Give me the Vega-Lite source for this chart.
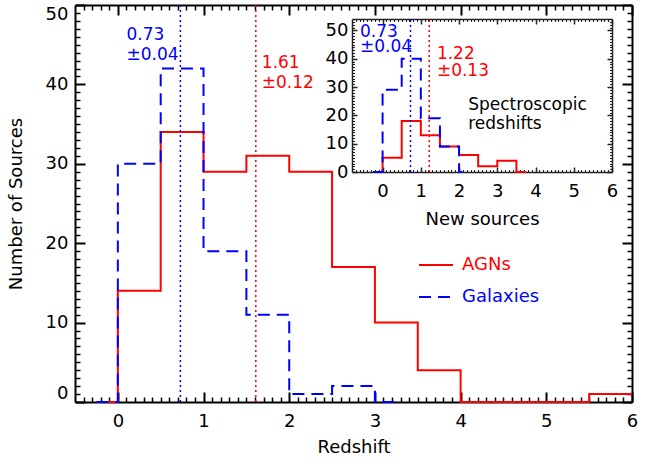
{
  "$schema": "https://vega.github.io/schema/vega-lite/v6.json",
  "width": 557,
  "height": 397,
  "autosize": {"type": "none"},
  "padding": {"left": 75, "top": 5, "right": 20, "bottom": 59},
  "background": "white",
  "config": {
    "view": {"stroke": null},
    "axis": {"grid": false, "labelFont": "DejaVu Sans", "titleFont": "DejaVu Sans", "labelFontSize": 18, "titleFontSize": 18, "titleFontWeight": "normal", "labelColor": "black", "titleColor": "black", "domainColor": "black", "tickColor": "black", "labelFlush": false, "labelOverlap": false}
  },
  "datasets": {
    "main": [
      {"x": -0.25, "count": 0, "type": "AGNs"},
      {"x": 0, "count": 14, "type": "AGNs"},
      {"x": 0.5, "count": 34, "type": "AGNs"},
      {"x": 1, "count": 29, "type": "AGNs"},
      {"x": 1.5, "count": 31, "type": "AGNs"},
      {"x": 2, "count": 29, "type": "AGNs"},
      {"x": 2.5, "count": 17, "type": "AGNs"},
      {"x": 3, "count": 10, "type": "AGNs"},
      {"x": 3.5, "count": 4, "type": "AGNs"},
      {"x": 4, "count": 0, "type": "AGNs"},
      {"x": 5.5, "count": 1, "type": "AGNs"},
      {"x": 6, "count": 1, "type": "AGNs"},
      {"x": -0.25, "count": 0, "type": "Galaxies"},
      {"x": 0, "count": 30, "type": "Galaxies"},
      {"x": 0.5, "count": 42, "type": "Galaxies"},
      {"x": 1, "count": 19, "type": "Galaxies"},
      {"x": 1.5, "count": 11, "type": "Galaxies"},
      {"x": 2, "count": 1, "type": "Galaxies"},
      {"x": 2.5, "count": 2, "type": "Galaxies"},
      {"x": 3, "count": 0, "type": "Galaxies"},
      {"x": 3.25, "count": 0, "type": "Galaxies"}
    ],
    "inset": [
      {"x": -0.1, "count": 0, "type": "AGNs"},
      {"x": 0, "count": 5, "type": "AGNs"},
      {"x": 0.5, "count": 18, "type": "AGNs"},
      {"x": 1, "count": 13, "type": "AGNs"},
      {"x": 1.5, "count": 9, "type": "AGNs"},
      {"x": 2, "count": 6, "type": "AGNs"},
      {"x": 2.5, "count": 2, "type": "AGNs"},
      {"x": 3, "count": 4, "type": "AGNs"},
      {"x": 3.5, "count": 0, "type": "AGNs"},
      {"x": 3.75, "count": 0, "type": "AGNs"},
      {"x": -0.25, "count": 0, "type": "Galaxies"},
      {"x": 0, "count": 29, "type": "Galaxies"},
      {"x": 0.5, "count": 40, "type": "Galaxies"},
      {"x": 1, "count": 19, "type": "Galaxies"},
      {"x": 1.5, "count": 9, "type": "Galaxies"},
      {"x": 2, "count": 0, "type": "Galaxies"},
      {"x": 2.25, "count": 0, "type": "Galaxies"}
    ],
    "vlines": [
      {"panel": "main", "x": 0.73, "type": "Galaxies"},
      {"panel": "main", "x": 1.61, "type": "AGNs"},
      {"panel": "inset", "x": 0.73, "type": "Galaxies"},
      {"panel": "inset", "x": 1.22, "type": "AGNs"}
    ],
    "labels": [
      {"panel": "main", "x": 0.1, "count": 46.2, "text": "0.73", "type": "Galaxies"},
      {"panel": "main", "x": 0.1, "count": 43.7, "text": "±0.04", "type": "Galaxies"},
      {"panel": "main", "x": 1.68, "count": 42.7, "text": "1.61", "type": "AGNs"},
      {"panel": "main", "x": 1.68, "count": 40.2, "text": "±0.12", "type": "AGNs"},
      {"panel": "inset", "x": -0.59, "count": 49.5, "text": "0.73", "type": "Galaxies"},
      {"panel": "inset", "x": -0.59, "count": 44.2, "text": "±0.04", "type": "Galaxies"},
      {"panel": "inset", "x": 1.42, "count": 41.7, "text": "1.22", "type": "AGNs"},
      {"panel": "inset", "x": 1.42, "count": 35.7, "text": "±0.13", "type": "AGNs"},
      {"panel": "inset", "x": 2.24, "count": 23.7, "text": "Spectroscopic", "type": "note"},
      {"panel": "inset", "x": 2.24, "count": 17, "text": "redshifts", "type": "note"}
    ]
  },
  "resolve": {
    "scale": {"x": "independent", "y": "independent", "color": "independent", "strokeDash": "independent"},
    "axis": {"x": "independent", "y": "independent"},
    "legend": {"color": "independent", "strokeDash": "independent"}
  },
  "layer": [
    {
      "data": {"name": "main"},
      "mark": {"type": "line", "interpolate": "step-after", "strokeWidth": 2},
      "encoding": {
        "x": {"field": "x", "type": "quantitative", "scale": {"domain": [-0.5, 6], "nice": false, "zero": false},
              "axis": {"orient": "bottom", "values": [0, 1, 2, 3, 4, 5, 6], "format": "d", "ticks": false, "labelPadding": 10, "domainWidth": 2, "title": "Redshift", "titlePadding": 8}},
        "y": {"field": "count", "type": "quantitative", "scale": {"domain": [0, 50], "nice": false, "zero": false},
              "axis": {"orient": "left", "values": [0, 10, 20, 30, 40, 50], "format": "d", "ticks": false, "labelFlush": true, "labelPadding": 7, "domainWidth": 2, "title": "Number of Sources", "titlePadding": 20}},
        "color": {"field": "type", "type": "nominal", "scale": {"domain": ["AGNs", "Galaxies"], "range": ["#ff0000", "#0000ff"]},
                  "legend": {"title": null, "orient": "none", "legendX": 343, "legendY": 242, "padding": 0, "symbolType": "stroke", "symbolSize": 1156, "symbolStrokeWidth": 2, "labelFont": "DejaVu Sans", "labelFontSize": 18, "labelOffset": 8, "rowPadding": 5,
                             "encode": {"labels": {"update": {"fill": {"signal": "datum.value === 'AGNs' ? '#ff0000' : '#0000ff'"}}}}}},
        "strokeDash": {"field": "type", "type": "nominal", "scale": {"domain": ["AGNs", "Galaxies"], "range": [[1, 0], [12, 7]]},
                  "legend": {"title": null, "orient": "none", "legendX": 343, "legendY": 242, "padding": 0, "symbolType": "stroke", "symbolSize": 1156, "symbolStrokeWidth": 2, "labelFont": "DejaVu Sans", "labelFontSize": 18, "labelOffset": 8, "rowPadding": 5,
                             "encode": {"labels": {"update": {"fill": {"signal": "datum.value === 'AGNs' ? '#ff0000' : '#0000ff'"}}}}}}
      }
    },
    {
      "data": {"name": "main"},
      "mark": {"type": "point", "opacity": 0},
      "encoding": {
        "x": {"field": "x", "type": "quantitative", "scale": {"domain": [-0.5, 6], "nice": false, "zero": false},
              "axis": {"orient": "top", "offset": -397, "values": [0, 1, 2, 3, 4, 5, 6], "labels": false, "domain": false, "tickSize": 10, "tickWidth": 2, "title": null}},
        "y": {"field": "count", "type": "quantitative", "scale": {"domain": [0, 50], "nice": false, "zero": false},
              "axis": {"orient": "right", "offset": -557, "values": [0, 10, 20, 30, 40, 50], "labels": false, "domain": false, "tickSize": 10, "tickWidth": 2, "title": null}}
      }
    },
    {
      "data": {"name": "main"},
      "mark": {"type": "point", "opacity": 0},
      "encoding": {
        "x": {"field": "x", "type": "quantitative", "scale": {"domain": [-0.5, 6], "nice": false, "zero": false},
              "axis": {"orient": "top", "offset": -397, "values": [-0.4,-0.3,-0.2,-0.1,0.1,0.2,0.3,0.4,0.5,0.6,0.7,0.8,0.9,1.1,1.2,1.3,1.4,1.5,1.6,1.7,1.8,1.9,2.1,2.2,2.3,2.4,2.5,2.6,2.7,2.8,2.9,3.1,3.2,3.3,3.4,3.5,3.6,3.7,3.8,3.9,4.1,4.2,4.3,4.4,4.5,4.6,4.7,4.8,4.9,5.1,5.2,5.3,5.4,5.5,5.6,5.7,5.8,5.9], "labels": false, "domain": false, "tickSize": 5, "tickWidth": 1.5, "title": null}},
        "y": {"field": "count", "type": "quantitative", "scale": {"domain": [0, 50], "nice": false, "zero": false},
              "axis": {"orient": "right", "offset": -557, "values": [1,2,3,4,5,6,7,8,9,11,12,13,14,15,16,17,18,19,21,22,23,24,25,26,27,28,29,31,32,33,34,35,36,37,38,39,41,42,43,44,45,46,47,48,49], "labels": false, "domain": false, "tickSize": 5, "tickWidth": 1.5, "title": null}}
      }
    },
    {
      "data": {"name": "main"},
      "mark": {"type": "point", "opacity": 0},
      "encoding": {
        "x": {"field": "x", "type": "quantitative", "scale": {"domain": [-0.5, 6], "nice": false, "zero": false},
              "axis": {"orient": "bottom", "offset": -397, "values": [0, 1, 2, 3, 4, 5, 6], "labels": false, "domainWidth": 2, "tickSize": 10, "tickWidth": 2, "title": null}},
        "y": {"field": "count", "type": "quantitative", "scale": {"domain": [0, 50], "nice": false, "zero": false},
              "axis": {"orient": "left", "offset": -557, "values": [0, 10, 20, 30, 40, 50], "labels": false, "domainWidth": 2, "tickSize": 10, "tickWidth": 2, "title": null}}
      }
    },
    {
      "data": {"name": "main"},
      "mark": {"type": "point", "opacity": 0},
      "encoding": {
        "x": {"field": "x", "type": "quantitative", "scale": {"domain": [-0.5, 6], "nice": false, "zero": false},
              "axis": {"orient": "bottom", "offset": -397, "values": [-0.4,-0.3,-0.2,-0.1,0.1,0.2,0.3,0.4,0.5,0.6,0.7,0.8,0.9,1.1,1.2,1.3,1.4,1.5,1.6,1.7,1.8,1.9,2.1,2.2,2.3,2.4,2.5,2.6,2.7,2.8,2.9,3.1,3.2,3.3,3.4,3.5,3.6,3.7,3.8,3.9,4.1,4.2,4.3,4.4,4.5,4.6,4.7,4.8,4.9,5.1,5.2,5.3,5.4,5.5,5.6,5.7,5.8,5.9], "labels": false, "domain": false, "tickSize": 5, "tickWidth": 1.5, "title": null}},
        "y": {"field": "count", "type": "quantitative", "scale": {"domain": [0, 50], "nice": false, "zero": false},
              "axis": {"orient": "left", "offset": -557, "values": [1,2,3,4,5,6,7,8,9,11,12,13,14,15,16,17,18,19,21,22,23,24,25,26,27,28,29,31,32,33,34,35,36,37,38,39,41,42,43,44,45,46,47,48,49], "labels": false, "domain": false, "tickSize": 5, "tickWidth": 1.5, "title": null}}
      }
    },
    {
      "data": {"name": "vlines"},
      "transform": [{"filter": "datum.panel === 'main'"}],
      "mark": {"type": "rule", "strokeDash": [2, 3], "strokeWidth": 1.5},
      "encoding": {
        "x": {"field": "x", "type": "quantitative", "scale": {"domain": [-0.5, 6], "nice": false, "zero": false}, "axis": null},
        "color": {"field": "type", "type": "nominal", "scale": {"domain": ["AGNs", "Galaxies"], "range": ["#ff0000", "#0000ff"]}, "legend": null}
      }
    },
    {
      "data": {"name": "labels"},
      "transform": [{"filter": "datum.panel === 'main'"}],
      "mark": {"type": "text", "align": "left", "baseline": "middle", "font": "DejaVu Sans", "fontSize": 17},
      "encoding": {
        "x": {"field": "x", "type": "quantitative", "scale": {"domain": [-0.5, 6], "nice": false, "zero": false}, "axis": null},
        "y": {"field": "count", "type": "quantitative", "scale": {"domain": [0, 50], "nice": false, "zero": false}, "axis": null},
        "text": {"field": "text"},
        "color": {"field": "type", "type": "nominal", "scale": {"domain": ["AGNs", "Galaxies", "note"], "range": ["#ff0000", "#0000ff", "#000000"]}, "legend": null}
      }
    },
    {
      "data": {"name": "inset"},
      "mark": {"type": "line", "interpolate": "step-after", "strokeWidth": 2},
      "encoding": {
        "x": {"field": "x", "type": "quantitative", "scale": {"domain": [-0.8, 6], "range": [277, 537], "nice": false, "zero": false},
              "axis": {"orient": "bottom", "offset": -230, "values": [0, 1, 2, 3, 4, 5, 6], "format": "d", "ticks": false, "labelPadding": 10, "domainWidth": 1.5, "domainColor": "#222222", "title": "New sources", "titlePadding": 10}},
        "y": {"field": "count", "type": "quantitative", "scale": {"domain": [0, 54], "range": [167, 14], "nice": false, "zero": false},
              "axis": {"orient": "left", "offset": -277, "values": [0, 10, 20, 30, 40, 50], "format": "d", "ticks": false, "labelPadding": 4, "domainWidth": 1.5, "domainColor": "#222222", "title": null}},
        "color": {"field": "type", "type": "nominal", "scale": {"domain": ["AGNs", "Galaxies"], "range": ["#ff0000", "#0000ff"]}, "legend": null},
        "strokeDash": {"field": "type", "type": "nominal", "scale": {"domain": ["AGNs", "Galaxies"], "range": [[1, 0], [12, 7]]}, "legend": null}
      }
    },
    {
      "data": {"name": "inset"},
      "mark": {"type": "point", "opacity": 0},
      "encoding": {
        "x": {"field": "x", "type": "quantitative", "scale": {"domain": [-0.8, 6], "range": [277, 537], "nice": false, "zero": false},
              "axis": {"orient": "top", "offset": -167, "values": [0, 1, 2, 3, 4, 5, 6], "labels": false, "domain": false, "tickSize": 5, "tickWidth": 1.5, "tickColor": "#222222", "title": null}},
        "y": {"field": "count", "type": "quantitative", "scale": {"domain": [0, 54], "range": [167, 14], "nice": false, "zero": false},
              "axis": {"orient": "right", "offset": -280, "values": [0, 10, 20, 30, 40, 50], "labels": false, "domain": false, "tickSize": 5, "tickWidth": 1.5, "tickColor": "#222222", "title": null}}
      }
    },
    {
      "data": {"name": "inset"},
      "mark": {"type": "point", "opacity": 0},
      "encoding": {
        "x": {"field": "x", "type": "quantitative", "scale": {"domain": [-0.8, 6], "range": [277, 537], "nice": false, "zero": false},
              "axis": {"orient": "top", "offset": -167, "values": [-0.7,-0.6,-0.5,-0.4,-0.3,-0.2,-0.1,0.1,0.2,0.3,0.4,0.5,0.6,0.7,0.8,0.9,1.1,1.2,1.3,1.4,1.5,1.6,1.7,1.8,1.9,2.1,2.2,2.3,2.4,2.5,2.6,2.7,2.8,2.9,3.1,3.2,3.3,3.4,3.5,3.6,3.7,3.8,3.9,4.1,4.2,4.3,4.4,4.5,4.6,4.7,4.8,4.9,5.1,5.2,5.3,5.4,5.5,5.6,5.7,5.8,5.9], "labels": false, "domain": false, "tickSize": 2.5, "tickWidth": 1, "tickColor": "#222222", "title": null}},
        "y": {"field": "count", "type": "quantitative", "scale": {"domain": [0, 54], "range": [167, 14], "nice": false, "zero": false},
              "axis": {"orient": "right", "offset": -280, "values": [1,2,3,4,5,6,7,8,9,11,12,13,14,15,16,17,18,19,21,22,23,24,25,26,27,28,29,31,32,33,34,35,36,37,38,39,41,42,43,44,45,46,47,48,49,51,52,53], "labels": false, "domain": false, "tickSize": 2.5, "tickWidth": 1, "tickColor": "#222222", "title": null}}
      }
    },
    {
      "data": {"name": "inset"},
      "mark": {"type": "point", "opacity": 0},
      "encoding": {
        "x": {"field": "x", "type": "quantitative", "scale": {"domain": [-0.8, 6], "range": [277, 537], "nice": false, "zero": false},
              "axis": {"orient": "bottom", "offset": -383, "values": [0, 1, 2, 3, 4, 5, 6], "labels": false, "domainWidth": 1.5, "domainColor": "#222222", "tickSize": 5, "tickWidth": 1.5, "tickColor": "#222222", "title": null}},
        "y": {"field": "count", "type": "quantitative", "scale": {"domain": [0, 54], "range": [167, 14], "nice": false, "zero": false},
              "axis": {"orient": "left", "offset": -537, "values": [0, 10, 20, 30, 40, 50], "labels": false, "domainWidth": 1.5, "domainColor": "#222222", "tickSize": 5, "tickWidth": 1.5, "tickColor": "#222222", "title": null}}
      }
    },
    {
      "data": {"name": "inset"},
      "mark": {"type": "point", "opacity": 0},
      "encoding": {
        "x": {"field": "x", "type": "quantitative", "scale": {"domain": [-0.8, 6], "range": [277, 537], "nice": false, "zero": false},
              "axis": {"orient": "bottom", "offset": -383, "values": [-0.7,-0.6,-0.5,-0.4,-0.3,-0.2,-0.1,0.1,0.2,0.3,0.4,0.5,0.6,0.7,0.8,0.9,1.1,1.2,1.3,1.4,1.5,1.6,1.7,1.8,1.9,2.1,2.2,2.3,2.4,2.5,2.6,2.7,2.8,2.9,3.1,3.2,3.3,3.4,3.5,3.6,3.7,3.8,3.9,4.1,4.2,4.3,4.4,4.5,4.6,4.7,4.8,4.9,5.1,5.2,5.3,5.4,5.5,5.6,5.7,5.8,5.9], "labels": false, "domain": false, "tickSize": 2.5, "tickWidth": 1, "tickColor": "#222222", "title": null}},
        "y": {"field": "count", "type": "quantitative", "scale": {"domain": [0, 54], "range": [167, 14], "nice": false, "zero": false},
              "axis": {"orient": "left", "offset": -537, "values": [1,2,3,4,5,6,7,8,9,11,12,13,14,15,16,17,18,19,21,22,23,24,25,26,27,28,29,31,32,33,34,35,36,37,38,39,41,42,43,44,45,46,47,48,49,51,52,53], "labels": false, "domain": false, "tickSize": 2.5, "tickWidth": 1, "tickColor": "#222222", "title": null}}
      }
    },
    {
      "data": {"name": "vlines"},
      "transform": [{"filter": "datum.panel === 'inset'"}],
      "mark": {"type": "rule", "strokeDash": [2, 3], "strokeWidth": 1.5},
      "encoding": {
        "x": {"field": "x", "type": "quantitative", "scale": {"domain": [-0.8, 6], "range": [277, 537], "nice": false, "zero": false}, "axis": null},
        "y": {"datum": 0, "type": "quantitative", "scale": {"domain": [0, 54], "range": [167, 14], "nice": false, "zero": false}, "axis": null},
        "y2": {"datum": 54},
        "color": {"field": "type", "type": "nominal", "scale": {"domain": ["AGNs", "Galaxies"], "range": ["#ff0000", "#0000ff"]}, "legend": null}
      }
    },
    {
      "data": {"name": "labels"},
      "transform": [{"filter": "datum.panel === 'inset'"}],
      "mark": {"type": "text", "align": "left", "baseline": "middle", "font": "DejaVu Sans", "fontSize": 17},
      "encoding": {
        "x": {"field": "x", "type": "quantitative", "scale": {"domain": [-0.8, 6], "range": [277, 537], "nice": false, "zero": false}, "axis": null},
        "y": {"field": "count", "type": "quantitative", "scale": {"domain": [0, 54], "range": [167, 14], "nice": false, "zero": false}, "axis": null},
        "text": {"field": "text"},
        "color": {"field": "type", "type": "nominal", "scale": {"domain": ["AGNs", "Galaxies", "note"], "range": ["#ff0000", "#0000ff", "#000000"]}, "legend": null}
      }
    }
  ]
}
